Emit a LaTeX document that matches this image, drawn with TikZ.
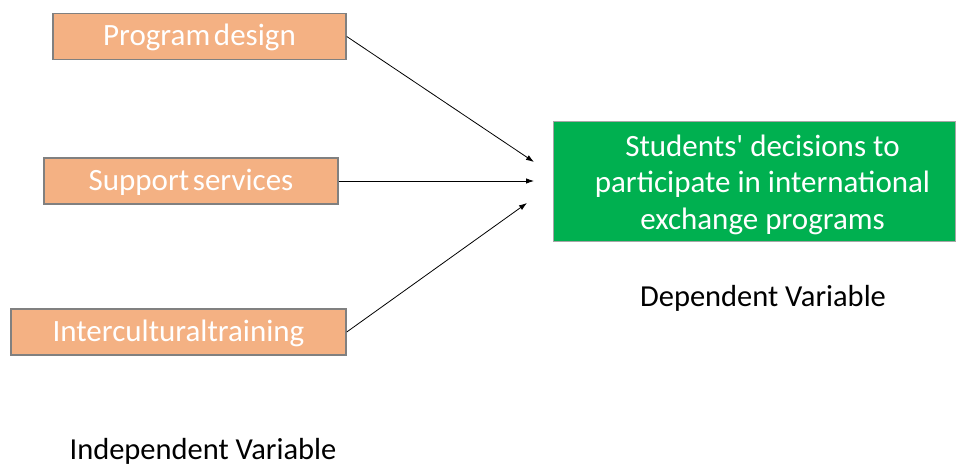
\documentclass[tikz,border=0pt]{standalone}
\usepackage{fontspec}
\setmainfont{Carlito}[Ligatures=TeXOff]
\usetikzlibrary{arrows.meta}

\definecolor{ivorange}{HTML}{F4B183}
\definecolor{dvgreen}{HTML}{00B050}

\newcommand{\ivfont}{\fontsize{31}{36}\selectfont\spaceskip 0.12em\relax}

\tikzset{
	ivbox/.style={draw=gray, line width=1.5pt, fill=ivorange, text=white, inner sep=0pt, minimum height=46pt, text height=24pt, text depth=5pt, font={\ivfont}},
	dvbox/.style={draw=gray!70, line width=1pt, fill=dvgreen, text=white, inner sep=0pt, minimum width=402pt, minimum height=119pt, align=center, font={\fontsize{31}{36.5}\selectfont}},
	varlabel/.style={inner sep=0pt, anchor=base, font={\fontsize{30.5}{34}\selectfont}},
	link/.style={line width=0.8pt, -{Latex[length=8pt,width=5.5pt]}}
}

\begin{document}
\begin{tikzpicture}[x=1pt,y=-1pt]
\useasboundingbox (0,0) rectangle (956,468);

\node[ivbox, minimum width=293pt] (design) at (199.5,36.5) {Program design};
\node[ivbox, minimum width=294pt] (support) at (191,181) {Support services};
\node[ivbox, minimum width=335pt] (training) at (178.5,332) {Interculturaltraining};

\node[dvbox] (decision) at (754,181.5) {\hspace*{17pt}\rule{0pt}{28pt}Students' decisions to\\ \hspace*{17pt}participate in international\\ \hspace*{17pt}exchange programs};

\node[varlabel] (indep) at (203,459.5) {Independent Variable};
\node[varlabel] (dep) at (763,306) {Dependent Variable};

\coordinate (designend) at (534,162);
\coordinate (supportend) at (534,181);
\coordinate (trainingend) at (527,203);

\foreach \from/\to in {design/designend, support/supportend, training/trainingend}
	\draw[link] (\from.east) -- (\to);
\end{tikzpicture}
\end{document}
